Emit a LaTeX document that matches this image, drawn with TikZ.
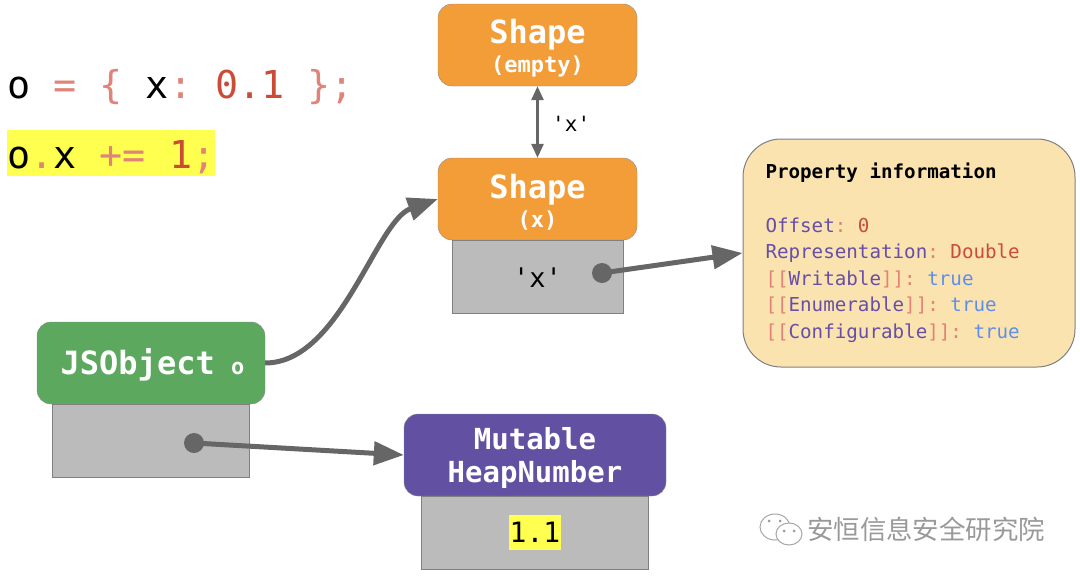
\documentclass[tikz,border=0pt]{standalone}
\usepackage{fontspec}
\setmonofont{DejaVu Sans Mono}
\newfontfamily\cjkfont{Noto Sans CJK SC}
\usepackage{tikz}
\usetikzlibrary{positioning,arrows.meta,calc}
\definecolor{orangebox}{HTML}{F39D38}
\definecolor{greenbox}{HTML}{5BA85E}
\definecolor{purplebox}{HTML}{6251A2}
\definecolor{graybox}{HTML}{BBBBBB}
\definecolor{beigebox}{HTML}{FBE3B0}
\definecolor{wire}{HTML}{666666}
\definecolor{hilite}{HTML}{FFFF50}
\definecolor{kwred}{HTML}{CC4B37}
\definecolor{kwpink}{HTML}{E08378}
\definecolor{kwpurple}{HTML}{674EA7}
\definecolor{kwblue}{HTML}{5E8EEB}
\newcommand{\fs}[1]{\fontsize{#1}{#1}\selectfont}
\newcommand{\pk}[1]{\textcolor{kwpink}{#1}}
\newcommand{\rd}[1]{\textcolor{kwred}{#1}}
\newcommand{\pu}[1]{\textcolor{kwpurple}{#1}}
\newcommand{\bl}[1]{\textcolor{kwblue}{#1}}
\newcommand{\up}{\rule{0pt}{31pt}}

\begin{document}
\begin{tikzpicture}[
  x=1pt, y=-1pt,
  every node/.style={font=\ttfamily},
  head/.style={draw=black!45, rounded corners=14pt, minimum height=82pt, inner sep=0pt, align=center, text=white},
  body/.style={draw=black!50, fill=graybox, minimum height=73pt, inner sep=0pt, line width=1pt},
  code/.style={anchor=base west, inner sep=0pt, font=\ttfamily\fs{38.4}},
  pin/.style={circle, fill=wire, minimum size=20pt, inner sep=0pt},
  arr/.style={-{Triangle[length=30pt,width=23pt]}, wire, line width=5pt},
  darr/.style={{Triangle[length=14pt,width=12pt]}-{Triangle[length=14pt,width=12pt]}, wire, line width=2.8pt},
  bubble/.style={draw=black!35, fill=white, line width=1pt},
  bdot/.style={circle, fill=black!40, minimum size=3pt, inner sep=0pt},
]
\useasboundingbox (0,0) rectangle (1080,576);
\node[code] (line1) at (7,98) {o \pk{=} \pk{\{} x\pk{:} \rd{0.1} \pk{\};}};
\node[fill=hilite, minimum height=46pt, minimum width=208pt, inner sep=0pt] (band) at (111,153) {};
\node[code] (line2) at (7,168) {o\pk{.}x \pk{+=} \rd{1}\pk{;}};

\node[head, fill=orangebox, minimum width=199pt] (empty) at (537.5,45) {\up\bfseries\fs{32}Shape\\[5pt]\bfseries\fs{22}(empty)};
\node[head, fill=orangebox, minimum width=199pt] (shapex) at (537.5,199) {\up\bfseries\fs{32}Shape\\[5pt]\bfseries\fs{22}(x)};
\node[body, minimum width=171pt, below=0pt of shapex, font=\ttfamily\fs{27}] (keyx) {'x'};
\node[pin] (dotx) at (602,273) {};

\node[head, fill=greenbox, minimum width=228pt] (jsobj) at (151,363) {\rule{0pt}{30pt}\hspace*{3pt}\bfseries\fs{32}JSObject\hspace{-3pt} \fs{22}o};
\node[body, minimum width=197pt, below=0pt of jsobj] (slot) {};
\node[pin] (dotobj) at (194,443) {};

\node[head, fill=purplebox, minimum width=262pt] (heapnum) at (535,455) {\rule{0pt}{28pt}\bfseries\fs{29}Mutable\\[10pt]\bfseries\fs{29}HeapNumber};
\node[body, minimum width=227pt, below=0pt of heapnum] (val) {};
\node[fill=hilite, inner sep=0pt, minimum width=52pt, minimum height=35pt, font=\ttfamily\fs{28}] (oneone) at (535,532.5) {1.1};

\node[draw=black!50, fill=beigebox, rounded corners=38pt, minimum width=332pt, minimum height=228pt, inner sep=0pt, line width=1pt] (prop) at (909,253) {%
  \begin{minipage}{287pt}\fontsize{19.2}{26.6}\selectfont\raggedright
  \textbf{Property information}\\[26.6pt]
  \pu{Offset}\pk{:} \rd{0}\\
  \pu{Representation}\pk{:} \rd{Double}\\
  \pk{[[}\pu{Writable}\pk{]]:} \bl{true}\\
  \pk{[[}\pu{Enumerable}\pk{]]:} \bl{true}\\
  \pk{[[}\pu{Configurable}\pk{]]:} \bl{true}
  \end{minipage}};

\draw[darr] (empty) -- node[right=10pt, text=black, font=\ttfamily\fs{21}, yshift=-2pt] (keylabel) {'x'} (shapex);
\draw[arr] (jsobj.east) .. controls +(75,0) and +(-62,22) .. (shapex.west);
\draw[arr] (dotx.center) -- (prop.west);
\draw[arr] (dotobj.center) -- (heapnum.west);

% watermark
\path[bubble] (775,527) ellipse [x radius=15pt, y radius=13pt];
\path[bubble] (789,534) ellipse [x radius=13pt, y radius=11pt];
\node[bdot] (eyea) at (769,521) {};
\node[bdot] (eyeb) at (780,521) {};
\node[bdot] (eyec) at (784,531) {};
\node[bdot] (eyed) at (794,531) {};
\node[anchor=west, inner sep=0pt, text=black!40, font=\cjkfont\fs{26.4}] (mark) at (807,529) {安恒信息安全研究院};
\end{tikzpicture}
\end{document}
